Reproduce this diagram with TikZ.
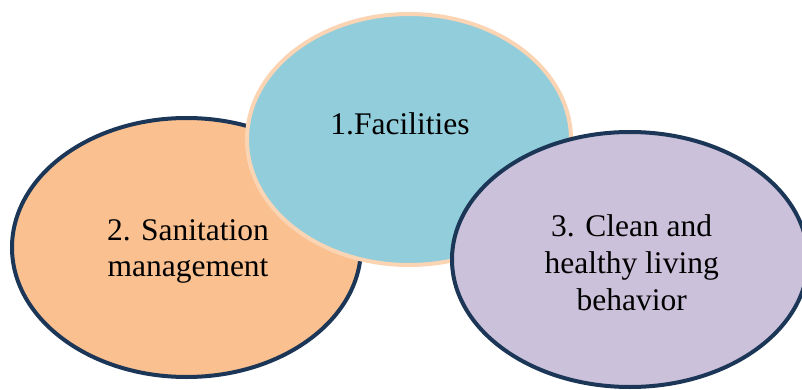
\documentclass[tikz,border=0pt]{standalone}
\usepackage{fontspec}
\setmainfont{Liberation Serif}
\usetikzlibrary{shapes.geometric}
\definecolor{orangefill}{HTML}{FAC090}
\definecolor{bluefill}{HTML}{92CDDC}
\definecolor{purplefill}{HTML}{CCC1DA}
\definecolor{darkrim}{HTML}{1C3657}
\definecolor{peachrim}{HTML}{FBD4B4}
\tikzset{
  blob/.style={ellipse, inner sep=0pt, line width=4pt},
  label text/.style={align=center, anchor=base, inner sep=0pt,
    font=\fontsize{31.5pt}{36.7pt}\selectfont, text=black}
}
\begin{document}
\begin{tikzpicture}[x=1pt,y=-1pt]
\useasboundingbox (0,0) rectangle (802,390);
\begin{scope}
\clip (0,0) rectangle (802,390);
\node[blob, draw=darkrim, fill=orangefill, minimum width=349pt, minimum height=259pt] (sanit) at (186.5,247.5) {};
\node[blob, draw=peachrim, fill=bluefill, minimum width=324pt, minimum height=251pt] (facil) at (409,139.5) {};
\node[blob, draw=darkrim, fill=purplefill, minimum width=356pt, minimum height=255pt] (clean) at (630,259.5) {};
\end{scope}
\node[label text] (t1) at (400,134.3) {1.Facilities};
\node[label text] (t2) at (188,276.7) {2. Sanitation\\management};
\node[label text] (t3) at (631.7,310.1) {3. Clean and\\healthy living\\behavior};
\end{tikzpicture}
\end{document}
